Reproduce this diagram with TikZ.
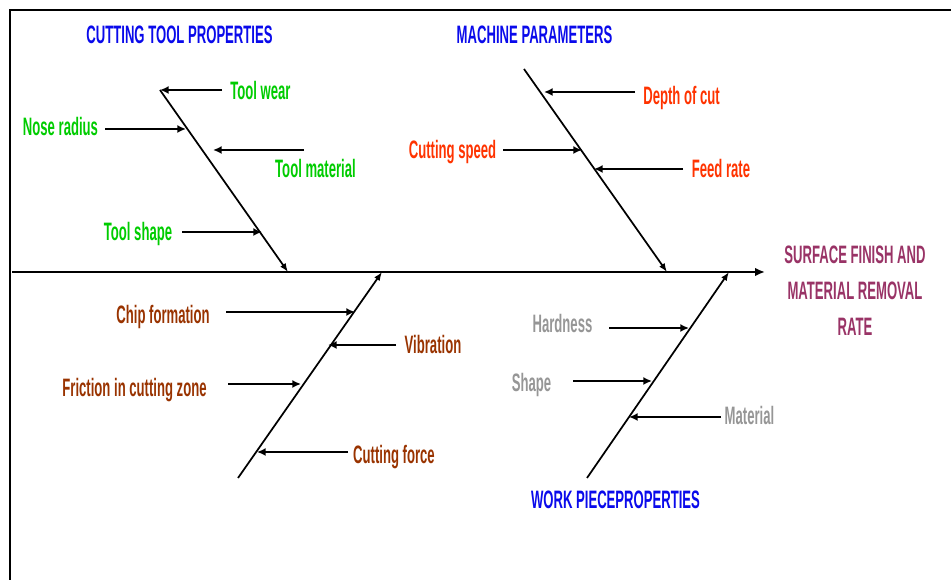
\documentclass[tikz,border=0pt]{standalone}
\usepackage{fontspec}
\setmainfont[FakeStretch=0.52]{Liberation Sans}
\usetikzlibrary{arrows.meta}
\definecolor{headblue}{RGB}{10,10,235}
\definecolor{toolgreen}{RGB}{0,204,0}
\definecolor{machred}{RGB}{255,51,0}
\definecolor{effectpurple}{RGB}{153,51,102}
\definecolor{envbrown}{RGB}{153,51,0}
\definecolor{workgray}{RGB}{150,150,150}
\tikzset{
	spine/.style={line width=2.1pt, -{Latex[length=7.5pt,width=6.5pt]}},
	bone/.style={line width=1.3pt, -{Latex[length=6.5pt,width=5pt]}},
	cause/.style={line width=1.7pt, -{Latex[length=6.5pt,width=6pt]}},
	txt/.style={anchor=base, inner sep=0pt, font=\bfseries\fontsize{18.9}{27}\selectfont},
	head/.style={txt, text=headblue},
}

\begin{document}
\begin{tikzpicture}[x=0.75pt,y=0.75pt,yscale=-1,xscale=1]
\useasboundingbox (0,0) rectangle (951,580);

% frame
\draw [line width=1.5pt] (10,580) -- (10,10) -- (951,10) ;

% spine and bones
\coordinate (tail) at (12,272);
\coordinate (effect) at (765,272);
\coordinate (toolTop) at (160,90);
\coordinate (toolEnd) at (288,272);
\coordinate (machTop) at (524,69);
\coordinate (machEnd) at (667,272);
\coordinate (envBot) at (238,478);
\coordinate (envEnd) at (382,272);
\coordinate (workBot) at (587,478);
\coordinate (workEnd) at (729,272);

\draw [spine] (tail) -- (effect) ;
\draw [bone] (toolTop) -- (toolEnd) ;
\draw [bone] (machTop) -- (machEnd) ;
\draw [bone] (envBot) -- (envEnd) ;
\draw [bone] (workBot) -- (workEnd) ;

% headings
\node [head] (toolHead) at (179.5,44) {CUTTING TOOL PROPERTIES};
\node [head] (machHead) at (534.5,44) {MACHINE PARAMETERS};
\node [head] (workHead) at (615.5,509) {WORK PIECEPROPERTIES};
\node [txt, text=effectpurple, align=center] (effectText) at (855,336) {SURFACE FINISH AND\\MATERIAL REMOVAL\\RATE};

% cutting tool
\node [txt, text=toolgreen] (wear) at (260.5,100) {Tool wear};
\node [txt, text=toolgreen] (nose) at (60.5,136) {Nose radius};
\node [txt, text=toolgreen] (toolMat) at (315.5,178) {Tool material};
\node [txt, text=toolgreen] (toolShape) at (138,241) {Tool shape};
\coordinate (wearA) at (222,90);     \coordinate (wearB) at (160,90);
\coordinate (noseA) at (105,129);    \coordinate (noseB) at (186,129);
\coordinate (toolMatA) at (304,150); \coordinate (toolMatB) at (213,150);
\coordinate (toolShapeA) at (182,232); \coordinate (toolShapeB) at (262,232);
\draw [cause] (wearA) -- (wearB) ;
\draw [cause] (noseA) -- (noseB) ;
\draw [cause] (toolMatA) -- (toolMatB) ;
\draw [cause] (toolShapeA) -- (toolShapeB) ;

% machine
\node [txt, text=machred] (depth) at (681.5,105) {Depth of cut};
\node [txt, text=machred] (speed) at (452.5,159) {Cutting speed};
\node [txt, text=machred] (feed) at (721,178) {Feed rate};
\coordinate (depthA) at (635,92);  \coordinate (depthB) at (544,92);
\coordinate (speedA) at (503,150); \coordinate (speedB) at (582,150);
\coordinate (feedA) at (683,169);  \coordinate (feedB) at (594,169);
\draw [cause] (depthA) -- (depthB) ;
\draw [cause] (speedA) -- (speedB) ;
\draw [cause] (feedA) -- (feedB) ;

% chip / cutting zone
\node [txt, text=envbrown] (chip) at (163,324) {Chip formation};
\node [txt, text=envbrown] (vib) at (433,354) {Vibration};
\node [txt, text=envbrown] (fric) at (134.5,397) {Friction in cutting zone};
\node [txt, text=envbrown] (force) at (394,464) {Cutting force};
\coordinate (chipA) at (226,312);  \coordinate (chipB) at (355,312);
\coordinate (vibA) at (396,345);   \coordinate (vibB) at (328,345);
\coordinate (fricA) at (228,384);  \coordinate (fricB) at (301,384);
\coordinate (forceA) at (348,452); \coordinate (forceB) at (257,452);
\draw [cause] (chipA) -- (chipB) ;
\draw [cause] (vibA) -- (vibB) ;
\draw [cause] (fricA) -- (fricB) ;
\draw [cause] (forceA) -- (forceB) ;

% work piece
\node [txt, text=workgray] (hard) at (562.5,333) {Hardness};
\node [txt, text=workgray] (shape) at (531.5,392) {Shape};
\node [txt, text=workgray] (mat) at (749.5,425) {Material};
\coordinate (hardA) at (609,328);  \coordinate (hardB) at (689,328);
\coordinate (shapeA) at (573,381); \coordinate (shapeB) at (652,381);
\coordinate (matA) at (721,417);   \coordinate (matB) at (629,417);
\draw [cause] (hardA) -- (hardB) ;
\draw [cause] (shapeA) -- (shapeB) ;
\draw [cause] (matA) -- (matB) ;

\end{tikzpicture}
\end{document}
